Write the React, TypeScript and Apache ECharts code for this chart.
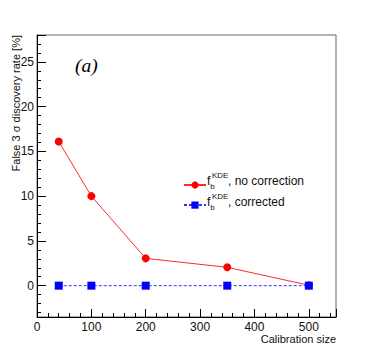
import React, { useEffect, useRef } from "react";
import * as echarts from "echarts";

const calibrationSizes = [40, 100, 200, 350, 500];
const noCorrection = [16.1, 10.0, 3.05, 2.05, 0.05];
const corrected = [0, 0, 0, 0, 0];
const seriesNames = ["no correction", "corrected"];

export default function App() {
  const ref = useRef<HTMLDivElement>(null);
  useEffect(() => {
    if (!ref.current) return;
    const chart = echarts.init(ref.current, null, { renderer: "svg" });
    const font = "'Liberation Sans', Arial, sans-serif";
    const option: any = {
      animation: false,
      backgroundColor: "#ffffff",
      grid: {
        left: 37,
        top: 35,
        right: 38,
        bottom: 36,
        show: true,
        borderColor: "#666",
        borderWidth: 1,
        backgroundColor: "transparent",
      },
      legend: {
        orient: "vertical",
        left: 178,
        top: 175.5,
        itemWidth: 22,
        itemHeight: 9,
        itemGap: 12,
        formatter: () => "",
        textStyle: { fontSize: 10, padding: 0 },
        data: seriesNames,
      },
      xAxis: [
        {
          type: "value",
          min: 0,
          max: 550,
          interval: 100,
          axisLine: { show: true, onZero: false, lineStyle: { color: "#000", width: 1 } },
          axisTick: { show: true, inside: true, length: 8, lineStyle: { color: "#000" } },
          axisLabel: {
            margin: 4,
            fontFamily: font,
            fontSize: 12,
            color: "#111",
            formatter: (v: number) => (v % 100 === 0 ? String(v) : ""),
          },
          splitLine: { show: false },
        },
        {
          type: "value",
          position: "bottom",
          min: 0,
          max: 550,
          interval: 20,
          axisLine: { show: false, onZero: false },
          axisTick: { show: true, inside: true, length: 4, lineStyle: { color: "#000" } },
          axisLabel: { show: false },
          splitLine: { show: false },
        },
      ],
      yAxis: [
        {
          type: "value",
          min: -3.5,
          max: 28,
          splitNumber: 6,
          axisLine: { show: true, onZero: false, lineStyle: { color: "#000", width: 1 } },
          axisTick: { show: true, inside: true, length: 9, lineStyle: { color: "#000" } },
          axisLabel: {
            margin: 3,
            fontFamily: font,
            fontSize: 12,
            color: "#111",
            formatter: (v: number) =>
              Math.abs(v - Math.round(v / 5) * 5) < 1e-9 ? String(Math.round(v)) : "",
          },
          splitLine: { show: false },
        },
        {
          type: "value",
          position: "left",
          min: -3.5,
          max: 28,
          splitNumber: 32,
          axisLine: { show: false, onZero: false },
          axisTick: { show: true, inside: true, length: 4, lineStyle: { color: "#000" } },
          axisLabel: { show: false },
          splitLine: { show: false },
        },
      ],
      series: [
        {
          name: seriesNames[0],
          type: "line",
          data: calibrationSizes.map((x, i) => [x, noCorrection[i]]),
          symbol: "circle",
          symbolSize: 8,
          itemStyle: { color: "#ff0000" },
          lineStyle: { color: "#ff2a2a", width: 1 },
          z: 2,
        },
        {
          name: seriesNames[1],
          type: "line",
          data: calibrationSizes.map((x, i) => [x, corrected[i]]),
          symbol: "rect",
          symbolSize: 8,
          itemStyle: { color: "#0000ff" },
          lineStyle: { color: "#3333ff", width: 1, type: [3, 2] },
          z: 3,
        },
      ],
      graphic: [
        {
          type: "text",
          x: 16,
          y: 35,
          rotation: Math.PI / 2,
          style: {
            text: "False 3 σ discovery rate [%]",
            fontFamily: font,
            fontSize: 11,
            fill: "#111",
            align: "right",
            verticalAlign: "middle",
          },
        },
        {
          type: "text",
          x: 336,
          y: 338.5,
          style: {
            text: "Calibration size",
            fontFamily: font,
            fontSize: 11,
            fill: "#111",
            align: "right",
            verticalAlign: "middle",
          },
        },
        {
          type: "text",
          x: 75,
          y: 65.5,
          style: {
            text: "(a)",
            fontFamily: "'Liberation Serif', 'Times New Roman', serif",
            fontStyle: "italic",
            fontSize: 19.5,
            fill: "#000",
            align: "left",
            verticalAlign: "middle",
          },
        },
        ...[180.5, 202].flatMap((cy, i) => [
          {
            type: "text",
            x: 207,
            y: cy,
            style: { text: "f", fontFamily: font, fontSize: 12, fill: "#111", verticalAlign: "middle" },
          },
          {
            type: "text",
            x: 210.3,
            y: cy + 5.5,
            style: { text: "b", fontFamily: font, fontSize: 8, fill: "#111", verticalAlign: "middle" },
          },
          {
            type: "text",
            x: 212,
            y: cy - 5.5,
            style: { text: "KDE", fontFamily: font, fontSize: 8, fill: "#111", verticalAlign: "middle" },
          },
          {
            type: "text",
            x: 228,
            y: cy,
            style: {
              text: ", " + seriesNames[i],
              fontFamily: font,
              fontSize: 12,
              fill: "#111",
              verticalAlign: "middle",
            },
          },
        ]),
      ],
    };
    chart.setOption(option);
    return () => chart.dispose();
  }, []);
  return (
    <div
      ref={ref}
      style={{ position: "absolute", left: 0, top: 0, width: 374, height: 353, background: "#fff" }}
    />
  );
}
